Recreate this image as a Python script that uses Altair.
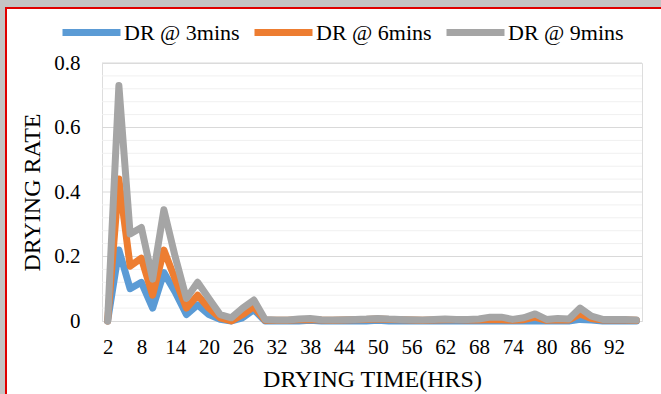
import altair as alt
import pandas as pd

# ---- data ----
hours = list(range(2, 98, 2))  # 2..96
dr3 = [0, 0.22, 0.10, 0.12, 0.04, 0.15, 0.09, 0.02, 0.05, 0.02, 0.005, 0.0, 0.01, 0.035,
       0, 0, 0, 0, 0.002, 0, 0, 0, 0, 0, 0.002, 0, 0, 0, 0, 0, 0, 0,
       0, 0, 0, 0, 0, 0, 0, 0, 0, 0, 0.005, 0.003, 0, 0, 0, 0]
dr6 = [0, 0.44, 0.17, 0.195, 0.08, 0.22, 0.13, 0.04, 0.08, 0.04, 0.01, 0.0, 0.02, 0.045,
       0.002, 0.002, 0.002, 0.004, 0.005, 0.003, 0.002, 0.003, 0.004, 0.005, 0.006, 0.005, 0.004, 0.003, 0.002, 0.003, 0.004, 0.004,
       0.003, 0.003, 0.005, 0.004, 0.002, 0.004, 0.012, 0.002, 0.004, 0.003, 0.022, 0.008, 0.003, 0.003, 0.003, 0.002]
dr9 = [0, 0.73, 0.27, 0.29, 0.13, 0.345, 0.20, 0.07, 0.12, 0.07, 0.02, 0.01, 0.04, 0.065,
       0.005, 0.003, 0.003, 0.006, 0.008, 0.004, 0.003, 0.004, 0.005, 0.006, 0.008, 0.006, 0.005, 0.004, 0.003, 0.005, 0.006, 0.005,
       0.005, 0.006, 0.012, 0.012, 0.005, 0.01, 0.022, 0.005, 0.008, 0.006, 0.04, 0.015, 0.005, 0.005, 0.005, 0.003]
series_names = ["DR @ 3mins", "DR @ 6mins", "DR @ 9mins"]
series_colors = ["#5B9BD5", "#ED7D31", "#A5A5A5"]
x_labels = list(range(2, 93, 6))
y_labels = [0, 0.2, 0.4, 0.6, 0.8]
minor_grid = [0.04, 0.08, 0.12, 0.16, 0.24, 0.28, 0.32, 0.36, 0.44, 0.48, 0.52, 0.56, 0.64, 0.68, 0.72, 0.76]
major_grid = [0.2, 0.4, 0.6, 0.8]

rows = []
for name, vals in zip(series_names, [dr3, dr6, dr9]):
    for h, v in zip(hours, vals):
        rows.append({"hour": h, "rate": v, "series": name})
df = pd.DataFrame(rows)

FONT = "Liberation Serif"
W, H = 540, 258
PL, PT, PR, PB = 102, 63, 19, 73

yscale = alt.Scale(domain=[0, 0.8], nice=False, zero=True)
yaxis = alt.Axis(values=y_labels, format="~g", grid=False, ticks=False,
                 domain=False, title="DRYING RATE", labelPadding=22,
                 labelFontSize=21, titleFontSize=24, titlePadding=9,
                 labelFont=FONT, titleFont=FONT,
                 labelColor="black", titleColor="black", titleFontWeight="normal")

minor = alt.Chart(pd.DataFrame({"g": minor_grid})).mark_rule(color="#f0f0f0", strokeWidth=1).encode(
    y=alt.Y("g:Q", scale=yscale, axis=yaxis, title="DRYING RATE")
)
major = alt.Chart(pd.DataFrame({"g": major_grid})).mark_rule(color="#d9d9d9", strokeWidth=1).encode(
    y=alt.Y("g:Q", scale=yscale, axis=yaxis, title="DRYING RATE")
)

lines = alt.Chart(df).mark_line(strokeWidth=7, strokeJoin="round", strokeCap="round").encode(
    x=alt.X("hour:O", scale=alt.Scale(type="point", padding=0.5),
            axis=alt.Axis(values=x_labels, labelAngle=0, title="DRYING TIME(HRS)",
                          ticks=False, domainColor="#d9d9d9", labelPadding=15,
                          labelFontSize=21, titleFontSize=24, titlePadding=10,
                          labelFont=FONT, titleFont=FONT,
                          labelColor="black", titleColor="black", titleFontWeight="normal")),
    y=alt.Y("rate:Q", scale=yscale, axis=yaxis, title="DRYING RATE"),
    color=alt.Color("series:N", scale=alt.Scale(domain=series_names, range=series_colors),
                    legend=alt.Legend(title=None, orient="none", direction="horizontal",
                                      legendX=-43, legendY=-63, symbolType="stroke",
                                      symbolSize=3364, symbolStrokeWidth=7,
                                      labelFont=FONT, labelFontSize=22, labelColor="black",
                                      labelOffset=0, columnPadding=0, gridAlign="none")),
)

one = pd.DataFrame({"a": [0]})
shadow_left = alt.Chart(one).mark_rule(color="#c4c4c4", strokeWidth=5).encode(
    x=alt.value(-99.5), y=alt.value(-PT), y2=alt.value(H + PB))
shadow_top = alt.Chart(one).mark_rule(color="#c4c4c4", strokeWidth=7).encode(
    y=alt.value(-59.5), x=alt.value(-PL), x2=alt.value(W + PR))
red_left = alt.Chart(one).mark_rule(color="#e00000", strokeWidth=2).encode(
    x=alt.value(-96), y=alt.value(-56), y2=alt.value(H + PB))
red_top = alt.Chart(one).mark_rule(color="#e00000", strokeWidth=2).encode(
    y=alt.value(-55), x=alt.value(-97), x2=alt.value(W + PR))

chart = alt.layer(minor, major, lines, shadow_left, shadow_top, red_left, red_top).properties(
    width=W, height=H,
    autosize=alt.AutoSizeParams(type="none"),
    padding={"left": PL, "top": PT, "right": PR, "bottom": PB},
    background="white",
).configure_view(stroke=None).configure(font=FONT).configure_legend(
    labelFont=FONT, labelFontSize=22, labelColor="black"
)

chart.save("out.html", embed_options={"renderer": "svg", "actions": False})
